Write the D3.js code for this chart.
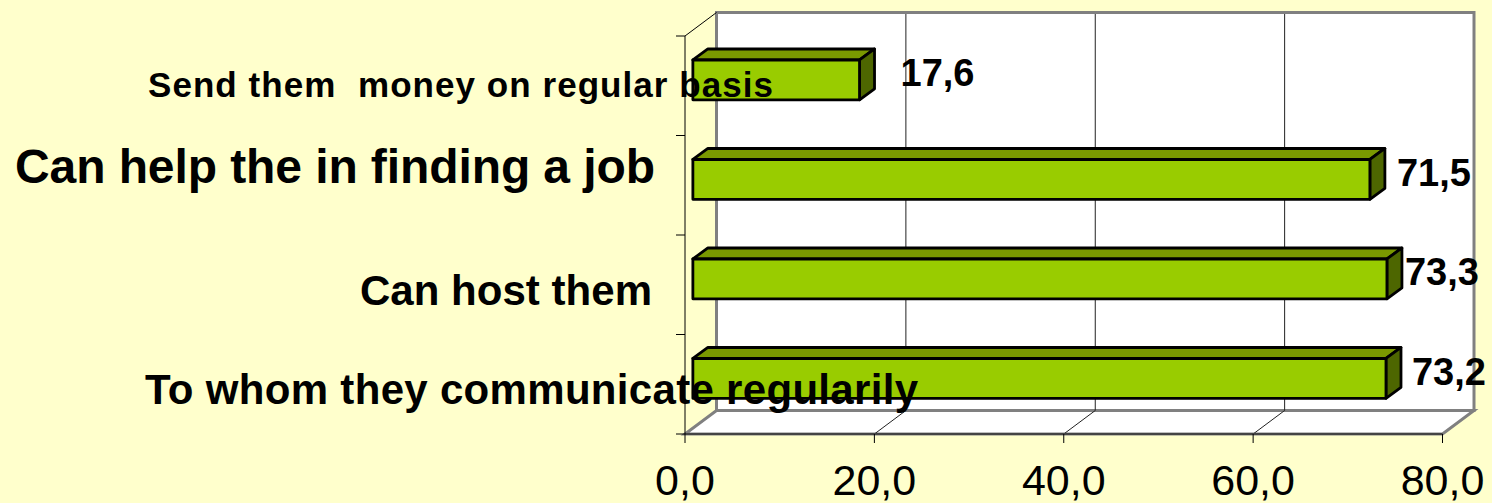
<!DOCTYPE html>
<html>
<head>
<meta charset="utf-8">
<script src="https://cdn.jsdelivr.net/npm/d3@7"></script>
<style>
  html, body { margin: 0; padding: 0; background: #FFFFCC; }
  svg { display: block; }
  text { font-family: "Liberation Sans", Arial, Helvetica, sans-serif; white-space: pre; }
</style>
</head>
<body>
<svg id="chart" width="1492" height="503"></svg>
<script>
// ---- data ----
const categories = [
  "Send them  money on regular basis",
  "Can help the in finding a job",
  "Can host them",
  "To whom they communicate regularily"
];
const values = [17.6, 71.5, 73.3, 73.2];
const tickValues = [0, 20, 40, 60, 80];

// ---- layout ----
const W = 1492, H = 503;
const x0 = 685, x1 = 1442.5;      // front plane x-range
const yTop = 36, yBot = 434;      // front plane y-range
const DX = 31.5, DY = 23.5;       // depth offset of the back wall
const barF = 0.25;                // depth fraction of bar front
const bDX = 15, bDY = 11;         // bar depth

const locale = d3.formatLocale({decimal: ",", thousands: ".", grouping: [3], currency: ["", ""]});
const fmt = locale.format(".1f");

const x = d3.scaleLinear().domain([0, 80]).range([x0, x1]);
const y = d3.scaleBand().domain(categories).range([yTop, yBot]).paddingInner(0.6).paddingOuter(0.3);
const yb = d3.scaleBand().domain(categories).range([yTop, yBot]);

const svg = d3.select("#chart");
svg.append("rect").attr("width", W).attr("height", H).attr("fill", "#FFFFCC");

const gray = "#808080";

// back wall
svg.append("rect")
  .attr("x", x(0) + DX).attr("y", yTop - DY)
  .attr("width", x(80) - x(0)).attr("height", yBot - yTop)
  .attr("fill", "#FFFFFF").attr("stroke", gray).attr("stroke-width", 3);

// floor
const floorPts = [[x(0), yBot], [x(80), yBot], [x(80) + DX, yBot - DY], [x(0) + DX, yBot - DY]];
svg.append("polygon")
  .attr("points", floorPts.map(p => p.join(",")).join(" "))
  .attr("fill", "#FFFFFF").attr("stroke", gray).attr("stroke-width", 3).attr("stroke-linejoin", "miter");

// left wall back edge (gray)
svg.append("line")
  .attr("x1", x(0) + DX).attr("x2", x(0) + DX)
  .attr("y1", yTop - DY).attr("y2", yBot - DY)
  .attr("stroke", gray).attr("stroke-width", 3);

// gridlines on back wall + floor
const grid = tickValues.filter(t => t > 0 && t < 80);
svg.selectAll(".gridv").data(grid).join("line")
  .attr("x1", d => x(d) + DX).attr("x2", d => x(d) + DX)
  .attr("y1", yTop - DY + 1.5).attr("y2", yBot - DY)
  .attr("stroke", "#222").attr("stroke-width", 1);
svg.selectAll(".gridf").data(grid).join("line")
  .attr("x1", d => x(d)).attr("x2", d => x(d) + DX)
  .attr("y1", yBot).attr("y2", yBot - DY)
  .attr("stroke", "#222").attr("stroke-width", 1);

// front floor edge
svg.append("line")
  .attr("x1", x(0)).attr("x2", x(80))
  .attr("y1", yBot).attr("y2", yBot)
  .attr("stroke", "#444").attr("stroke-width", 2);

// left axis and top diagonal
svg.append("line")
  .attr("x1", x(0)).attr("x2", x(0)).attr("y1", yTop).attr("y2", yBot)
  .attr("stroke", "#000").attr("stroke-width", 1);
svg.append("line")
  .attr("x1", x(0)).attr("x2", x(0) + DX).attr("y1", yTop).attr("y2", yTop - DY)
  .attr("stroke", "#000").attr("stroke-width", 1);

// left axis ticks (category boundaries)
const bounds = categories.map(c => yb(c)).concat([yBot]);
svg.selectAll(".ytick").data(bounds).join("line")
  .attr("x1", x(0) - 9).attr("x2", x(0))
  .attr("y1", d => d).attr("y2", d => d)
  .attr("stroke", "#000").attr("stroke-width", 1);

// x axis ticks & labels
svg.selectAll(".xtick").data(tickValues).join("line")
  .attr("x1", d => x(d)).attr("x2", d => x(d))
  .attr("y1", yBot).attr("y2", yBot + 9)
  .attr("stroke", "#000").attr("stroke-width", 1);
svg.selectAll(".xlab").data(tickValues).join("text")
  .attr("x", d => x(d)).attr("y", 495)
  .attr("text-anchor", "middle")
  .attr("font-size", 43).attr("fill", "#000")
  .text(d => fmt(d));

// bars
const frontCol = "#99CC00", topCol = "#7A9900", sideCol = "#4D6600";
const bars = svg.selectAll(".bar").data(values).join("g");
bars.each(function(v, i) {
  const g = d3.select(this);
  const c = categories[i];
  const fx0 = x(0) + barF * DX, fx1 = x(v) + barF * DX;
  const fy0 = y(c) - barF * DY, fy1 = fy0 + y.bandwidth();
  const poly = (pts, fill) => g.append("polygon")
    .attr("points", pts.map(q => q.join(",")).join(" "))
    .attr("fill", fill)
    .attr("stroke", "#000").attr("stroke-width", 2.8).attr("stroke-linejoin", "round");
  poly([[fx0, fy0], [fx1, fy0], [fx1 + bDX, fy0 - bDY], [fx0 + bDX, fy0 - bDY]], topCol);
  poly([[fx1, fy0], [fx1 + bDX, fy0 - bDY], [fx1 + bDX, fy1 - bDY], [fx1, fy1]], sideCol);
  poly([[fx0, fy0], [fx1, fy0], [fx1, fy1], [fx0, fy1]], frontCol);
});

// category labels (manual placement as in the original slide)
const catLayout = [
  {x: 148, dy: 11, size: 35, len: 625},
  {x: 15,  dy: -2, size: 48, len: 640},
  {x: 360, dy: 20, size: 42, len: 292},
  {x: 145, dy: 20, size: 42, len: 773}
];
svg.selectAll(".cat").data(categories).join("text")
  .attr("x", (d, i) => catLayout[i].x)
  .attr("y", (d, i) => yb(d) + yb.bandwidth() / 2 + catLayout[i].dy)
  .attr("font-size", (d, i) => catLayout[i].size)
  .attr("font-weight", "bold")
  .attr("textLength", (d, i) => catLayout[i].len)
  .attr("lengthAdjust", "spacing")
  .attr("fill", "#000")
  .text(d => d);

// value labels
const valGap = [26, 12, 3, 11];
svg.selectAll(".val").data(values).join("text")
  .attr("x", (d, i) => x(d) + barF * DX + bDX + valGap[i])
  .attr("y", (d, i) => yb(categories[i]) + yb.bandwidth() / 2 - 13)
  .attr("dy", "0.36em")
  .attr("font-size", 38).attr("font-weight", "bold").attr("fill", "#000")
  .text(d => fmt(d));
</script>
</body>
</html>
